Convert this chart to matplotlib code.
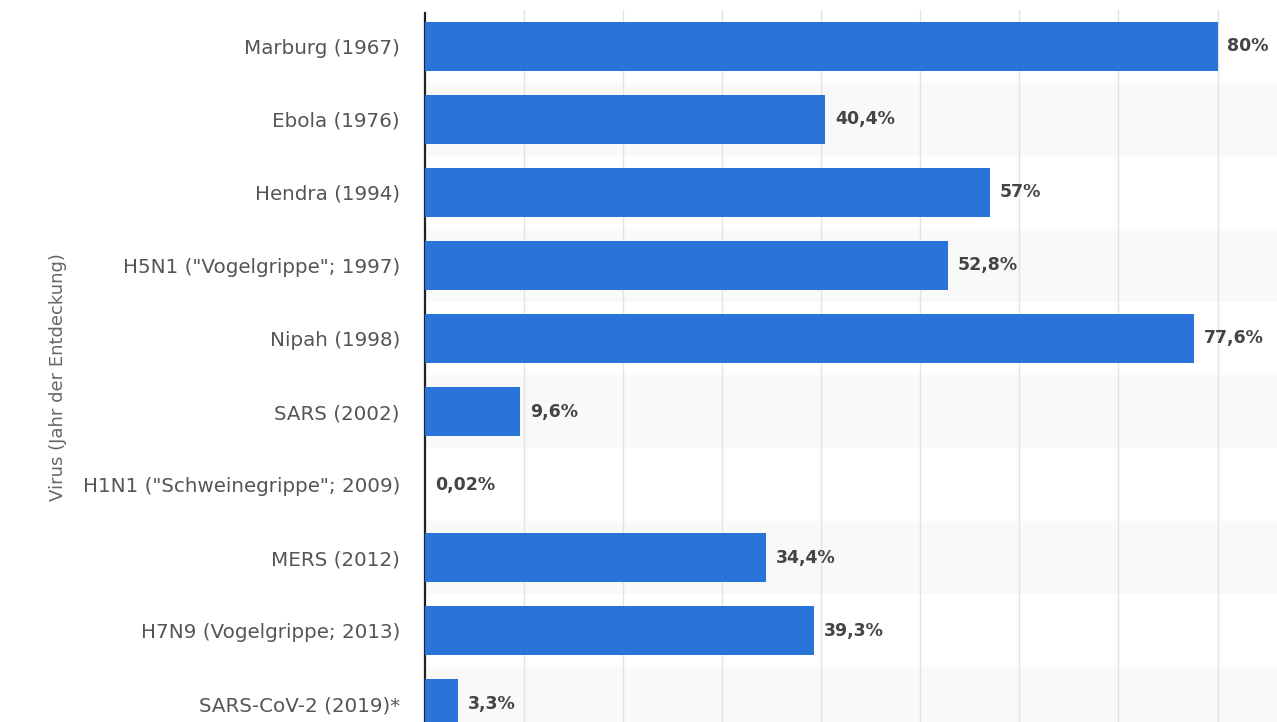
import numpy as np
import matplotlib
matplotlib.use("Agg")
import matplotlib.pyplot as plt

# Daten
viren = ['Marburg (1967)', 'Ebola (1976)', 'Hendra (1994)',
         'H5N1 ("Vogelgrippe"; 1997)', 'Nipah (1998)', 'SARS (2002)',
         'H1N1 ("Schweinegrippe"; 2009)', 'MERS (2012)',
         'H7N9 (Vogelgrippe; 2013)', 'SARS-CoV-2 (2019)*']
letalitaet = [80, 40.4, 57, 52.8, 77.6, 9.6, 0.02, 34.4, 39.3, 3.3]
beschriftung = ['80%', '40,4%', '57%', '52,8%', '77,6%', '9,6%',
                '0,02%', '34,4%', '39,3%', '3,3%']

plt.rcParams['font.family'] = ['DejaVu Sans']

fig = plt.figure(figsize=(12.77, 7.22), dpi=100)
ax = fig.add_axes([425/1277, -18.5/722, 852/1277, 731/722])

y = np.arange(len(viren))

# abwechselnde Zeilenhintergruende
for i in y:
    if i % 2 == 1:
        ax.axhspan(i - 0.5, i + 0.5, color='#f9f9f9', zorder=0, lw=0)

ax.barh(y, letalitaet, height=0.67, color='#2a74d9', zorder=3)

for i, (v, t) in enumerate(zip(letalitaet, beschriftung)):
    ax.text(v + 1.0, i, t, va='center', ha='left', fontsize=12.5,
            fontweight='bold', color='#444444', zorder=4)

ax.set_xlim(0, 86)
ax.set_ylim(len(viren) - 0.5, -0.5)
ax.set_xticks(np.arange(10, 81, 10))
ax.xaxis.grid(True, color='#e3e3e3', lw=1, zorder=1)
ax.set_axisbelow(True)
ax.tick_params(axis='x', length=0, labelbottom=False)

ax.set_yticks(y)
ax.set_yticklabels(viren, fontsize=14.3, color='#555555')
ax.tick_params(axis='y', length=0, pad=18)

for s in ['top', 'right', 'bottom']:
    ax.spines[s].set_visible(False)
ax.spines['left'].set_color('#222222')
ax.spines['left'].set_linewidth(1.6)
ax.spines['left'].set_bounds(len(viren) - 0.5, -0.45)

ax.set_ylabel('Virus (Jahr der Entdeckung)', fontsize=13, color='#666666')
ax.yaxis.set_label_coords(-358/852, (722 - 377 + 18.5) / 731)

fig.savefig('out.png', dpi=100)
